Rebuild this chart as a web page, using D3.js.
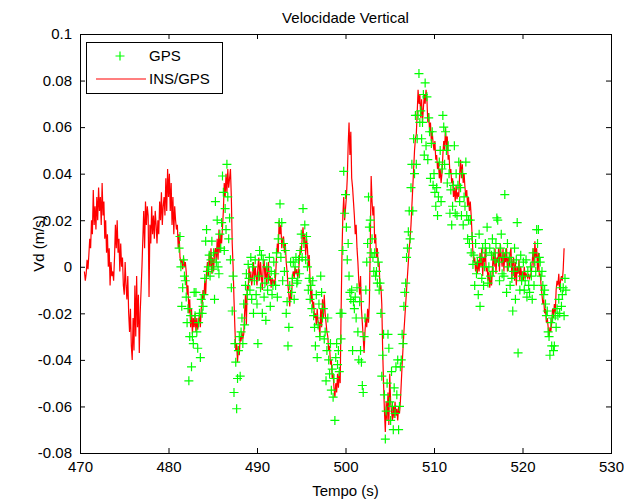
<!DOCTYPE html>
<html>
<head>
<meta charset="utf-8">
<script src="https://cdn.jsdelivr.net/npm/d3@7"></script>
<style>
  html, body { margin: 0; padding: 0; background: #fff; }
  svg { display: block; font-family: Arial, "Liberation Sans", Helvetica, sans-serif; }
</style>
</head>
<body>
<svg id="chart" width="624" height="500"></svg>
<script>
// Vertical velocity: INS/GPS solution sampled every 0.1 s starting at 470.5 s
const insStart = 470.5;
const insStep = 0.1;
const insVd = [
-0.002,-0.006,-0.003,0.003,-0.001,
0.005,0.012,0.008,0.020,0.014,0.033,0.018,0.026,0.016,0.030,
0.020,0.034,0.024,0.030,0.018,0.036,0.022,0.028,0.012,0.020,
0.006,0.014,0,0.008,-0.008,0.002,-0.004,-0.002,-0.006,0.004,
0.018,0.008,0.020,0.006,0.012,-0.002,0.010,0,0.004,-0.008,
-0.012,0.002,-0.008,-0.014,-0.004,-0.020,-0.028,-0.018,-0.034,-0.040,
-0.022,-0.036,-0.008,-0.030,-0.004,-0.026,-0.012,-0.037,-0.020,-0.010,
0,0.012,0.024,0.008,0.028,0.018,0.026,0.022,-0.013,0.018,
0.010,0.026,0.014,0.022,0.012,0.024,0.018,0.010,0.020,0.014,
0.028,0.020,0.032,0.018,0.026,0.030,0.022,0.038,0.024,0.042,
0.030,0.040,0.024,0.036,0.018,0.030,0.014,0.026,0.020,0.016,
0.018,0.008,0.014,0.004,0.002,0.003,-0.001,0.004,0,0.002,
-0.002,-0.012,-0.008,-0.020,-0.014,-0.026,-0.018,-0.029,-0.022,-0.026,
-0.020,-0.028,-0.022,-0.027,-0.024,-0.020,-0.026,-0.018,-0.016,-0.010,
-0.014,-0.006,-0.012,-0.002,0.002,-0.004,0.006,0,0.008,-0.003,
0.004,-0.002,0.006,0.008,0.002,0.012,0.003,0.016,0.006,0.014,
0.010,0.017,0.024,0.036,0.030,0.040,0.032,0.042,0.034,0.038,
0.042,0.030,0.010,0,-0.014,-0.026,-0.036,-0.033,-0.041,-0.034,
-0.038,-0.030,-0.032,-0.028,-0.031,-0.029,-0.020,-0.012,-0.025,-0.008,
-0.010,0,-0.006,-0.002,-0.008,-0.004,0.002,-0.006,0,-0.004,
-0.008,0,0.004,-0.006,0.002,-0.004,-0.010,0,0.003,-0.005,
0,-0.008,-0.002,0.002,-0.006,-0.004,-0.009,-0.005,-0.007,-0.006,
-0.008,-0.004,0.004,0.010,0.006,0.020,0.014,0.018,0.008,0.012,
0.013,0.006,0.010,0.002,-0.002,-0.008,-0.012,-0.017,-0.010,-0.014,
-0.004,-0.002,-0.005,0,-0.003,-0.001,-0.005,-0.002,0.004,0.008,
0.006,0.012,0.017,0.010,0.014,0.005,0.012,0.008,0,0.005,
-0.006,-0.015,-0.010,-0.018,-0.015,-0.022,-0.020,-0.025,-0.018,-0.024,
-0.024,-0.030,-0.018,-0.026,-0.014,-0.022,-0.012,-0.020,-0.024,-0.028,
-0.030,-0.036,-0.034,-0.042,-0.040,-0.048,-0.046,-0.052,-0.056,-0.050,
-0.054,-0.046,-0.052,-0.045,-0.050,-0.020,0.005,0.022,0.030,0.020,
0.025,0.030,0.038,0.052,0.062,0.048,0.058,0.038,0.034,0.028,
0.022,0.014,0.018,0.008,0.002,-0.006,-0.012,-0.004,-0.018,-0.024,
-0.030,-0.037,-0.028,-0.022,-0.026,-0.018,-0.024,-0.015,0.010,0.039,
0.028,0.022,0.026,0.010,0.014,0.004,0.008,0,0.002,-0.010,
-0.008,-0.016,-0.036,-0.050,-0.062,-0.071,-0.058,-0.066,-0.054,-0.068,
-0.046,-0.058,-0.062,-0.066,-0.060,-0.065,-0.058,-0.064,-0.061,-0.066,
-0.060,-0.063,-0.058,-0.050,-0.042,-0.035,-0.028,-0.022,-0.016,-0.010,
-0.004,0.002,0.008,0.012,0.018,0.026,0.034,0.042,0.050,0.055,
0.057,0.066,0.076,0.070,0.074,0.064,0.072,0.062,0.068,0.074,
0.070,0.076,0.072,0.062,0.066,0.058,0.062,0.054,0.058,0.053,
0.050,0.054,0.046,0.048,0.042,0.045,0.038,0.042,0.036,0.040,
0.048,0.054,0.050,0.060,0.052,0.056,0.046,0.048,0.040,0.042,
0.036,0.038,0.030,0.034,0.028,0.035,0.029,0.032,0.030,0.040,
0.046,0.038,0.044,0.036,0.040,0.034,0.030,0.033,0.026,0.030,
0.024,0.028,0.022,0.014,0.006,0.002,0.004,-0.002,0.002,-0.003,
0.003,-0.002,0.006,0,0.008,-0.004,0.004,0.002,0.008,-0.002,
0,-0.006,-0.002,-0.009,-0.004,-0.008,-0.001,0.006,0,0.008,
-0.003,0.004,0.002,0.008,-0.002,0.010,0.004,0,0.008,-0.002,
0.006,0.002,0.008,-0.002,0.004,0,0.006,0.008,-0.005,0.002,
0.004,-0.006,0.002,-0.008,0,-0.003,0.003,-0.006,0,-0.004,
-0.002,-0.006,0,-0.005,-0.003,-0.004,-0.005,-0.003,-0.005,-0.004,
-0.002,0.002,0.008,0,0.011,0.004,0.008,-0.002,0.006,-0.004,
-0.003,-0.008,-0.012,-0.016,-0.014,-0.020,-0.018,-0.024,-0.022,-0.026,
-0.030,-0.026,-0.028,-0.024,-0.018,-0.022,-0.016,-0.020,-0.010,-0.006,
-0.008,-0.003,-0.010,-0.006,-0.004,-0.006,-0.001,0.008
];

// GPS vertical velocity fixes, every 0.1 s starting at 481.2 s
const gpsStart = 481.2;
const gpsStep = 0.1;
const gpsVd = [
0.008,0.013,0,-0.017,-0.009,0.003,-0.004,-0.006,
-0.013,-0.024,-0.018,-0.049,-0.030,-0.021,-0.043,-0.030,-0.033,-0.011,
-0.021,-0.011,-0.028,-0.035,-0.024,-0.020,-0.039,-0.014,-0.020,-0.017,
-0.012,-0.005,0.011,0.016,-0.002,0,0.005,-0.004,0.003,0.011,
-0.001,0.006,-0.014,0.028,0.002,0.020,0,-0.003,0.014,0.008,
0.019,0.039,0.032,0.007,0.025,0.016,0.044,0.030,0.012,0.021,
0.003,-0.009,-0.019,-0.004,-0.054,-0.033,-0.041,-0.061,-0.048,-0.036,
-0.030,-0.047,-0.028,-0.022,-0.033,-0.016,-0.025,-0.008,-0.003,-0.012,
0.001,-0.005,-0.010,0.004,-0.014,0,-0.020,-0.006,0.003,-0.012,
-0.016,-0.033,-0.004,0.007,-0.009,0.005,-0.020,0.003,-0.013,-0.007,
-0.023,0,-0.010,-0.005,0.004,-0.017,-0.002,-0.012,-0.008,0.002,
-0.003,-0.008,0.006,-0.013,0.012,0.019,0.027,0.004,0.019,-0.006,
0.010,-0.002,0.007,-0.020,-0.015,-0.034,-0.026,-0.008,0.002,-0.011,
-0.005,0.002,-0.014,0,0.004,-0.007,-0.006,0.003,-0.003,0.007,
0.014,0.004,0.025,0.010,0.018,0.003,0.013,0,-0.010,-0.005,
-0.014,-0.008,-0.018,-0.006,-0.021,-0.026,-0.034,-0.012,-0.039,-0.025,
-0.016,-0.030,-0.004,-0.011,-0.022,-0.018,-0.031,-0.028,-0.049,-0.036,
-0.022,-0.040,-0.046,-0.033,-0.053,-0.044,-0.056,-0.048,-0.066,-0.039,
-0.033,-0.042,-0.036,-0.045,-0.020,-0.031,-0.020,0.007,0.041,0.023,
0.031,0.017,0.003,0.010,-0.004,-0.011,-0.014,-0.010,-0.036,-0.015,
-0.018,-0.013,-0.022,-0.009,-0.028,-0.040,-0.015,-0.036,-0.041,-0.051,
-0.054,-0.030,-0.022,-0.010,0.002,0.010,0.030,0.017,0.020,0.006,
0.012,0.004,-0.002,0.006,-0.004,-0.002,-0.007,0.002,-0.010,-0.007,
-0.020,-0.047,-0.038,-0.029,-0.055,-0.074,-0.062,-0.050,-0.029,-0.035,
-0.058,-0.066,-0.045,-0.060,-0.070,-0.052,-0.063,-0.043,-0.055,-0.040,
-0.070,-0.060,-0.043,-0.040,-0.029,-0.033,-0.017,-0.011,-0.007,0.004,
0.008,0.015,0.024,0.012,0.034,0.044,0.024,0.055,0.040,0.065,
0.044,0.055,0.065,0.083,0.062,0.067,0.055,0.062,0.074,0.048,
0.079,0.052,0.073,0.046,0.064,0.058,0.038,0.053,0.058,0.035,
0.040,0.032,0.026,0.034,0.022,0.030,0.045,0.050,0.028,0.042,
0.065,0.060,0.044,0.058,0.050,0.036,0.052,0.040,0.023,0.033,
0.018,0.026,0.035,0.052,0.023,0.040,0.022,0.035,0.045,0.028,
0.034,0.022,0.040,0.018,0.030,0.026,0.045,0.022,0.012,0.020,
0.010,0.020,0.006,0.013,0.001,0.005,-0.008,0.010,-0.003,0.002,
-0.012,0.014,-0.017,0.004,-0.005,0.008,-0.008,0,0.010,0.006,
0.017,-0.007,0,0.008,-0.004,0.005,0.012,-0.002,0.006,0.003,
0.010,0.021,0.020,0.002,-0.006,0.008,0.014,-0.003,0.004,-0.004,
0.031,0.006,-0.011,0.010,0,0.004,-0.008,0.002,-0.005,-0.019,
-0.002,0.008,-0.014,0.003,0.019,-0.037,0,-0.010,0.005,-0.006,
-0.004,0.002,-0.010,-0.006,0.003,-0.013,-0.002,-0.008,-0.011,0,
-0.004,-0.014,0.006,-0.008,0.002,-0.002,0.016,0.010,0.016,0.004,
0.002,-0.004,-0.002,-0.008,-0.012,-0.010,-0.016,-0.021,-0.019,-0.028,
-0.030,-0.038,-0.024,-0.034,-0.022,-0.036,-0.034,-0.021,-0.026,-0.018,
-0.021,-0.014,-0.020,-0.009,-0.017,-0.012,-0.009,-0.021,-0.005,-0.010
];

// Axis ticks and labels
const xTicks = [470, 480, 490, 500, 510, 520, 530];
const xTickLabels = ["470", "480", "490", "500", "510", "520", "530"];
const yTicks = [-0.08, -0.06, -0.04, -0.02, 0, 0.02, 0.04, 0.06, 0.08, 0.1];
const yTickLabels = ["-0.08", "-0.06", "-0.04", "-0.02", "0", "0.02", "0.04", "0.06", "0.08", "0.1"];
const seriesNames = ["GPS", "INS/GPS"];
const chartTitle = "Velocidade Vertical";
const xTitle = "Tempo (s)";
const yTitle = "Vd (m/s)";

const ins = insVd.map((v, i) => ({ t: insStart + i * insStep, v }));
const gps = gpsVd.map((v, i) => ({ t: gpsStart + i * gpsStep, v }));

const svg = d3.select("#chart");
const L = 80, R = 611, T = 34, B = 453;
const FONT = 15;

const x = d3.scaleLinear().domain([470, 530]).range([L, R]);
const y = d3.scaleLinear().domain([-0.08, 0.1]).range([B, T]);

const plot = svg.append("g");
plot.append("rect").attr("x", L).attr("y", T).attr("width", R - L).attr("height", B - T).attr("fill", "#fff");

const clip = svg.append("clipPath").attr("id", "plotclip");
clip.append("rect").attr("x", L).attr("y", T).attr("width", R - L).attr("height", B - T);

const marks = svg.append("g").attr("clip-path", "url(#plotclip)");

// INS/GPS trace
marks.append("path")
  .datum(ins)
  .attr("fill", "none")
  .attr("stroke", "#ff0000")
  .attr("stroke-width", 1.2)
  .attr("stroke-linejoin", "miter")
  .attr("d", d3.line().x(d => x(d.t)).y(d => y(d.v)));

// GPS fixes as plus markers
const plusPath = "M-4.5,0H4.5M0,-4.5V4.5";
marks.append("g").selectAll("path")
  .data(gps)
  .join("path")
  .attr("transform", d => `translate(${x(d.t)},${y(d.v)})`)
  .attr("d", plusPath)
  .attr("stroke", "#00ff00")
  .attr("stroke-width", 1.2)
  .attr("fill", "none");

// Axes: ticks point inward on all four sides
const axisColor = "#000";
function styleAxis(g) {
  g.select(".domain").remove();
  g.selectAll(".tick line").attr("stroke", axisColor);
  g.selectAll(".tick text").attr("fill", "#000").attr("font-size", FONT).attr("font-family", "Arial, 'Liberation Sans', sans-serif");
}

svg.append("g")
  .attr("transform", `translate(0,${B})`)
  .call(d3.axisBottom(x).tickValues(xTicks).tickSize(-5).tickPadding(8)
    .tickFormat((d, i) => xTickLabels[i]))
  .call(styleAxis);

svg.append("g")
  .attr("transform", `translate(0,${T})`)
  .call(d3.axisTop(x).tickValues(xTicks).tickSize(-5).tickFormat(""))
  .call(styleAxis);

svg.append("g")
  .attr("transform", `translate(${L},0)`)
  .call(d3.axisLeft(y).tickValues(yTicks).tickSize(-5).tickPadding(8)
    .tickFormat((d, i) => yTickLabels[i]))
  .call(styleAxis);

svg.append("g")
  .attr("transform", `translate(${R},0)`)
  .call(d3.axisRight(y).tickValues(yTicks).tickSize(-5).tickFormat(""))
  .call(styleAxis);

// Plot frame
svg.append("rect")
  .attr("x", L + 0.5).attr("y", T + 0.5)
  .attr("width", R - L).attr("height", B - T)
  .attr("fill", "none").attr("stroke", axisColor).attr("stroke-width", 1);

// Titles
svg.append("text")
  .attr("x", (L + R) / 2).attr("y", 23)
  .attr("text-anchor", "middle").attr("font-size", FONT)
  .text(chartTitle);

svg.append("text")
  .attr("x", (L + R) / 2).attr("y", 496)
  .attr("text-anchor", "middle").attr("font-size", FONT)
  .text(xTitle);

svg.append("text")
  .attr("transform", `translate(44,${(T + B) / 2}) rotate(-90)`)
  .attr("text-anchor", "middle").attr("font-size", FONT)
  .text(yTitle);

// Legend
const lg = svg.append("g");
lg.append("rect")
  .attr("x", 86.5).attr("y", 42.5).attr("width", 136).attr("height", 51)
  .attr("fill", "#fff").attr("stroke", "#000").attr("stroke-width", 1);
lg.append("path")
  .attr("transform", "translate(120,56)")
  .attr("d", plusPath).attr("stroke", "#00ff00").attr("stroke-width", 1.2);
lg.append("line")
  .attr("x1", 96).attr("x2", 146).attr("y1", 79).attr("y2", 79)
  .attr("stroke", "#ff0000").attr("stroke-width", 1.2);
lg.append("text").attr("x", 149).attr("y", 61).attr("font-size", FONT).text(seriesNames[0]);
lg.append("text").attr("x", 149).attr("y", 84).attr("font-size", FONT).text(seriesNames[1]);
</script>
</body>
</html>
